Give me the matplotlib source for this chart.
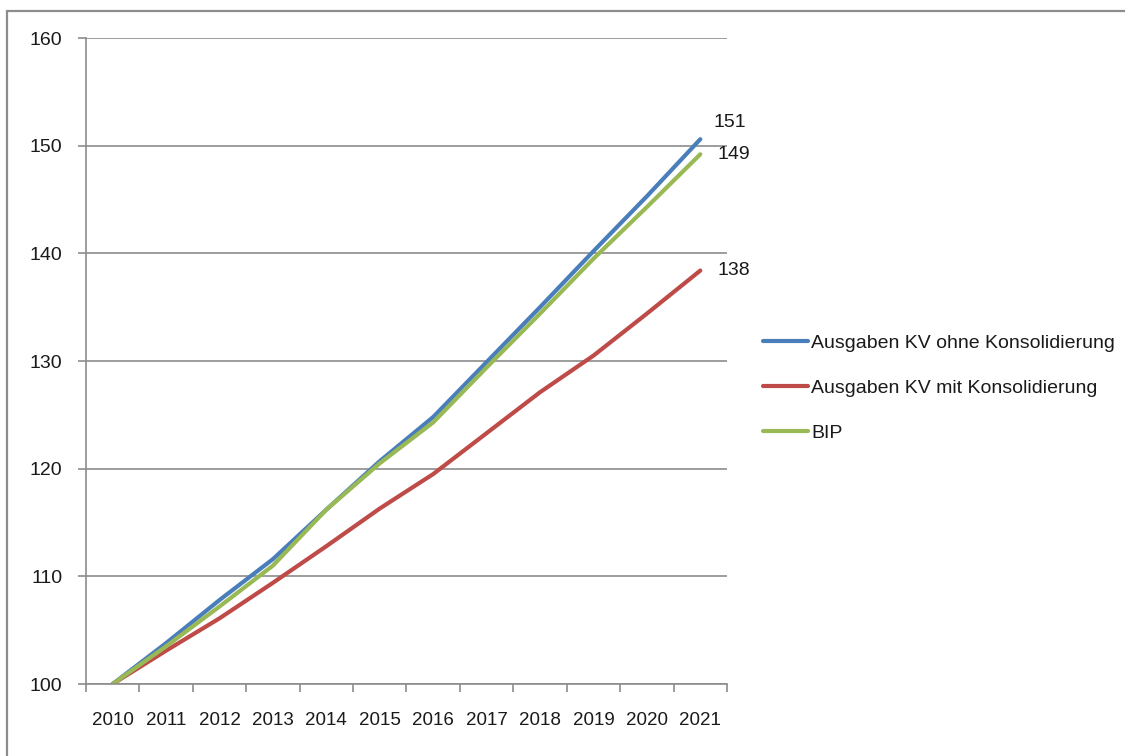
import matplotlib
matplotlib.use("Agg")
import matplotlib.pyplot as plt
from matplotlib.patches import Rectangle

plt.rcParams['font.family'] = ['Liberation Sans', 'DejaVu Sans']

years = ['2010', '2011', '2012', '2013', '2014', '2015', '2016', '2017', '2018', '2019', '2020', '2021']
ohne = [100, 103.8, 107.8, 111.6, 116.2, 120.7, 124.8, 129.9, 135.0, 140.2, 145.3, 150.6]
mit = [100, 103.1, 106.1, 109.4, 112.8, 116.3, 119.5, 123.3, 127.1, 130.5, 134.4, 138.4]
bip = [100, 103.5, 107.2, 111.0, 116.2, 120.5, 124.3, 129.4, 134.4, 139.5, 144.3, 149.2]
series_names = ['Ausgaben KV ohne Konsolidierung', 'Ausgaben KV mit Konsolidierung', 'BIP']
colors = ['#4A7EBB', '#BE4B48', '#98B954']

W, H = 1125, 756
fig = plt.figure(figsize=(W / 100, H / 100), dpi=100)
ax = fig.add_axes([86 / W, 1 - 684 / H, (727 - 86) / W, (684 - 38) / H])

# outer chart frame
fig.patches.append(Rectangle((7 / W, -0.1), 1.2, 1 - 11 / H + 0.1, transform=fig.transFigure,
                             fill=False, edgecolor='#8c8c8c', linewidth=1.6))

x = list(range(len(years)))
lines = []
for vals, name, c in zip([ohne, mit, bip], series_names, colors):
    ln, = ax.plot(x, vals, color=c, linewidth=3.0, solid_capstyle='round', label=name)
    lines.append(ln)

# end labels
offsets = [(13, 17), (17, 0), (17, 0)]
for vals, off in zip([ohne, mit, bip], offsets):
    ax.annotate(f"{vals[-1]:.0f}", xy=(x[-1], vals[-1]), xytext=(off[0] * 0.72, off[1] * 0.72),
                textcoords='offset points', ha='left', va='center', fontsize=14,
                color='#1a1a1a', annotation_clip=False)

ax.set_ylim(100, 160)
ax.set_yticks(range(100, 161, 10))
ax.set_xlim(-0.5, len(years) - 0.5)
ax.set_xticks([i - 0.5 for i in range(len(years) + 1)])
ax.set_xticklabels([])
ax.set_xticks(x, minor=True)
ax.set_xticklabels(years, minor=True)

ax.grid(axis='y', color='#8c8c8c', linewidth=1.2)
ax.set_axisbelow(True)
for s in ['top', 'right']:
    ax.spines[s].set_visible(False)
for s in ['left', 'bottom']:
    ax.spines[s].set_color('#8c8c8c')
    ax.spines[s].set_linewidth(1.2)

ax.tick_params(axis='y', which='major', length=6, width=1.2, color='#8c8c8c', pad=11,
               labelsize=14, labelcolor='#1a1a1a')
ax.tick_params(axis='x', which='major', length=6, width=1.2, color='#8c8c8c', direction='out')
ax.tick_params(axis='x', which='minor', length=0, pad=20, labelsize=13.5, labelcolor='#1a1a1a')

leg = fig.legend(handles=lines, loc='center left', bbox_to_anchor=(755 / W, 1 - 388 / H),
                 frameon=False, fontsize=14, handlelength=2.3, handletextpad=0.2,
                 labelspacing=1.4, borderaxespad=0)
for t in leg.get_texts():
    t.set_color('#1a1a1a')

fig.savefig('out.png', dpi=100)
